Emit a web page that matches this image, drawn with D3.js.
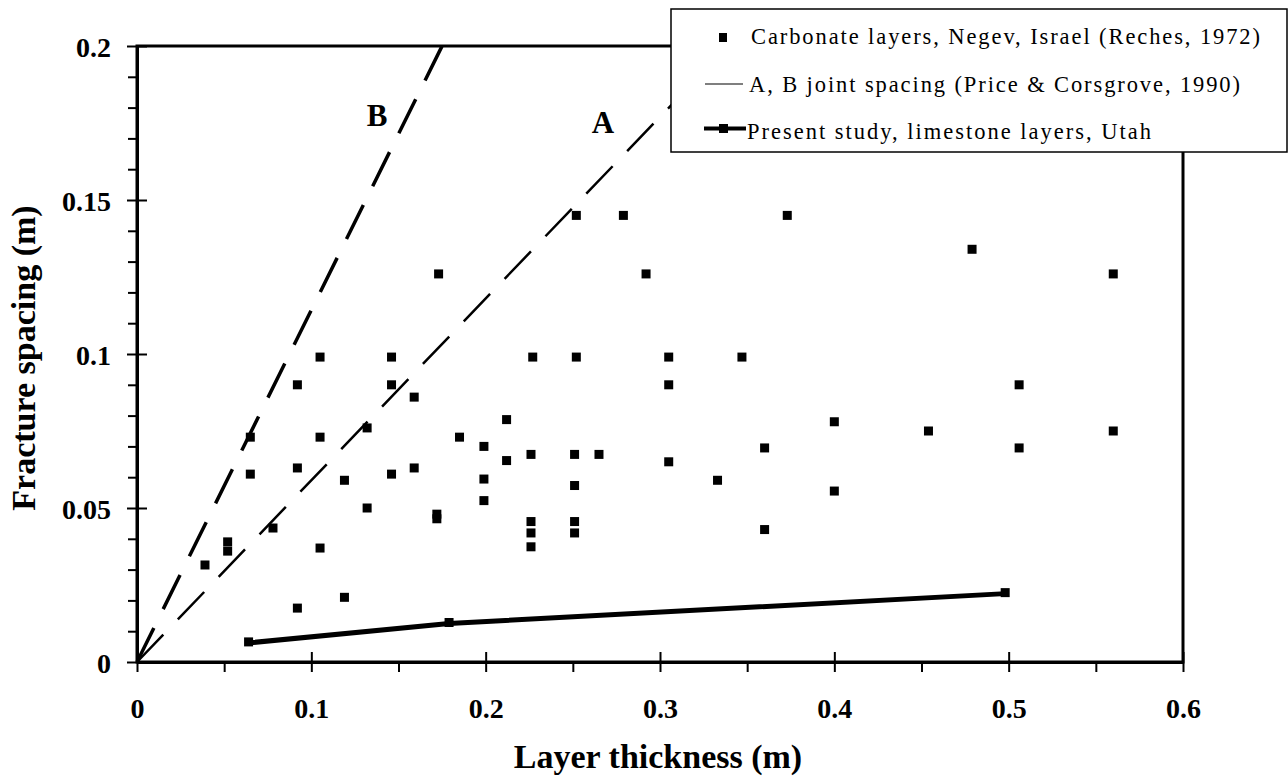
<!DOCTYPE html>
<html>
<head>
<meta charset="utf-8">
<script src="https://cdn.jsdelivr.net/npm/d3@7"></script>
<style>
  body { margin: 0; background: #fff; }
  svg { display: block; }
  svg text { font-family: 'Liberation Serif', 'Times New Roman', serif; fill: #000; }
</style>
</head>
<body>
<svg id="chart" width="1288" height="783"></svg>
<script>
// Reches (1972) carbonate layers, Negev
const rechesThickness = [0.039, 0.052, 0.052, 0.065, 0.065, 0.078, 0.092, 0.092, 0.092, 0.105,
  0.105, 0.105, 0.119, 0.119, 0.132, 0.132, 0.146, 0.146, 0.146, 0.159,
  0.159, 0.173, 0.172, 0.172, 0.185, 0.199, 0.199, 0.199, 0.212, 0.212,
  0.227, 0.226, 0.226, 0.226, 0.226, 0.252, 0.252, 0.251, 0.251, 0.251,
  0.251, 0.265, 0.279, 0.292, 0.305, 0.305, 0.305, 0.333, 0.347, 0.36,
  0.36, 0.373, 0.4, 0.4, 0.454, 0.479, 0.506, 0.506, 0.56, 0.56]
const rechesSpacing = [0.0315, 0.039, 0.036, 0.073, 0.061, 0.0435, 0.090, 0.063, 0.0175, 0.099,
  0.073, 0.037, 0.059, 0.021, 0.076, 0.050, 0.099, 0.090, 0.061, 0.086,
  0.063, 0.126, 0.048, 0.0465, 0.073, 0.070, 0.0594, 0.0524, 0.0787, 0.0654,
  0.099, 0.0674, 0.0456, 0.0419, 0.0374, 0.145, 0.099, 0.0674, 0.0573, 0.0456,
  0.0419, 0.0674, 0.145, 0.126, 0.099, 0.090, 0.065, 0.059, 0.099, 0.0695,
  0.043, 0.145, 0.078, 0.0555, 0.075, 0.134, 0.090, 0.0695, 0.126, 0.075]

// present study, limestone layers, Utah
const studyThickness = [0.064, 0.179, 0.498]
const studySpacing = [0.0062, 0.0125, 0.0222]

// Price & Cosgrove joint spacing lines
const jointAThickness = [0, 0.339]
const jointASpacing = [0, 0.2]
const jointBThickness = [0, 0.175]
const jointBSpacing = [0, 0.2]

const xTicks = [0, 0.1, 0.2, 0.3, 0.4, 0.5, 0.6]
const xTickLabels = ['0', '0.1', '0.2', '0.3', '0.4', '0.5', '0.6']
const xMinorTicks = [0.05, 0.15, 0.25, 0.35, 0.45, 0.55]
const yTicks = [0, 0.05, 0.1, 0.15, 0.2]
const yTickLabels = ['0', '0.05', '0.1', '0.15', '0.2']
const yMinorTicks = [0.01, 0.02, 0.03, 0.04, 0.06, 0.07, 0.08, 0.09, 0.11, 0.12, 0.13, 0.14, 0.16, 0.17, 0.18, 0.19]

const legendLabels = ['Carbonate layers, Negev, Israel (Reches, 1972)',
  'A, B joint spacing (Price & Corsgrove, 1990)',
  'Present study, limestone layers, Utah']
const legendWidths = [509, 491, 404]

const svg = d3.select('#chart')
const x = d3.scaleLinear().domain([0, 0.6]).range([137, 1183])
const y = d3.scaleLinear().domain([0, 0.2]).range([662, 46])

// frame
svg.append('rect')
  .attr('x', x(0)).attr('y', y(0.2))
  .attr('width', x(0.6) - x(0)).attr('height', y(0) - y(0.2))
  .attr('fill', 'none').attr('stroke', '#000').attr('stroke-width', 3)

// x axis
const xAxis = svg.append('g').attr('transform', 'translate(0,' + y(0) + ')')
  .call(d3.axisBottom(x).tickValues(xTicks).tickSize(10).tickSizeOuter(0)
    .tickFormat((d, i) => xTickLabels[i]))
xAxis.select('.domain').attr('stroke-width', 3)
xAxis.selectAll('.tick line').attr('y1', -10).attr('stroke-width', 2)
xAxis.selectAll('.tick text')
  .attr('y', 36).attr('dy', '0.71em')
  .attr('font-size', 28).attr('font-weight', 'bold')

svg.append('g').attr('transform', 'translate(0,' + y(0) + ')')
  .call(d3.axisBottom(x).tickValues(xMinorTicks).tickSize(10).tickFormat(''))
  .call(g => g.select('.domain').remove())
  .selectAll('.tick line').attr('stroke-width', 2)

// y axis
const yAxis = svg.append('g').attr('transform', 'translate(' + x(0) + ',0)')
  .call(d3.axisLeft(y).tickValues(yTicks).tickSize(10).tickSizeOuter(0)
    .tickFormat((d, i) => yTickLabels[i]))
yAxis.select('.domain').attr('stroke-width', 3)
yAxis.selectAll('.tick line').attr('x1', 10).attr('stroke-width', 2)
yAxis.selectAll('.tick text')
  .attr('x', -26).attr('dy', '0.36em')
  .attr('font-size', 28).attr('font-weight', 'bold')

svg.append('g').attr('transform', 'translate(' + x(0) + ',0)')
  .call(d3.axisLeft(y).tickValues(yMinorTicks).tickSize(9).tickFormat(''))
  .call(g => g.select('.domain').remove())
  .selectAll('.tick line').attr('stroke-width', 2)

// axis titles
svg.append('text')
  .attr('x', 658).attr('y', 768)
  .attr('text-anchor', 'middle')
  .attr('font-size', 34).attr('font-weight', 'bold')
  .text('Layer thickness (m)')

svg.append('text')
  .attr('transform', 'translate(35,358) rotate(-90)')
  .attr('text-anchor', 'middle')
  .attr('font-size', 34).attr('font-weight', 'bold')
  .text('Fracture spacing (m)')

// joint spacing lines A and B
const line = d3.line().x(d => x(d[0])).y(d => y(d[1]))

svg.append('path')
  .datum(d3.zip(jointBThickness, jointBSpacing))
  .attr('d', line)
  .attr('fill', 'none').attr('stroke', '#000')
  .attr('stroke-width', 3.5).attr('stroke-dasharray', '38,21')

svg.append('path')
  .datum(d3.zip(jointAThickness, jointASpacing))
  .attr('d', line)
  .attr('fill', 'none').attr('stroke', '#000')
  .attr('stroke-width', 2.5).attr('stroke-dasharray', '38,21')

svg.append('text').attr('x', 377).attr('y', 126)
  .attr('text-anchor', 'middle').attr('font-size', 31).attr('font-weight', 'bold')
  .text('B')
svg.append('text').attr('x', 603).attr('y', 133)
  .attr('text-anchor', 'middle').attr('font-size', 31).attr('font-weight', 'bold')
  .text('A')

// Reches points
const marker = 9
svg.append('g').selectAll('rect')
  .data(d3.zip(rechesThickness, rechesSpacing))
  .join('rect')
  .attr('x', d => x(d[0]) - marker / 2)
  .attr('y', d => y(d[1]) - marker / 2)
  .attr('width', marker).attr('height', marker)
  .attr('fill', '#000')

// present study
const study = d3.zip(studyThickness, studySpacing)
svg.append('path')
  .datum(study)
  .attr('d', line)
  .attr('fill', 'none').attr('stroke', '#000').attr('stroke-width', 5)
svg.append('g').selectAll('rect')
  .data(study)
  .join('rect')
  .attr('x', d => x(d[0]) - marker / 2)
  .attr('y', d => y(d[1]) - marker / 2 - 1)
  .attr('width', marker).attr('height', marker)
  .attr('fill', '#000')

// legend
const legend = svg.append('g')
legend.append('rect')
  .attr('x', 671).attr('y', 9).attr('width', 616).attr('height', 143)
  .attr('fill', '#fff').attr('stroke', '#000').attr('stroke-width', 1.5)

const rowY = [37.5, 84, 128.5]
legend.append('rect').attr('x', 719).attr('y', rowY[0] - 4.5).attr('width', 8).attr('height', 9).attr('fill', '#000')
legend.append('line').attr('x1', 705).attr('x2', 743).attr('y1', rowY[1]).attr('y2', rowY[1])
  .attr('stroke', '#000').attr('stroke-width', 1.2)
legend.append('line').attr('x1', 704).attr('x2', 746).attr('y1', rowY[2]).attr('y2', rowY[2])
  .attr('stroke', '#000').attr('stroke-width', 4)
legend.append('rect').attr('x', 719).attr('y', rowY[2] - 4.5).attr('width', 9).attr('height', 9).attr('fill', '#000')

const legendX = [751, 749, 747]
const legendBase = [43.5, 91.5, 139]
legend.selectAll('text.lab')
  .data(legendLabels)
  .join('text')
  .attr('class', 'lab')
  .attr('x', (d, i) => legendX[i])
  .attr('y', (d, i) => legendBase[i])
  .attr('font-size', 22.5)
  .attr('textLength', (d, i) => legendWidths[i])
  .attr('lengthAdjust', 'spacing')
  .text(d => d)
</script>
</body>
</html>
